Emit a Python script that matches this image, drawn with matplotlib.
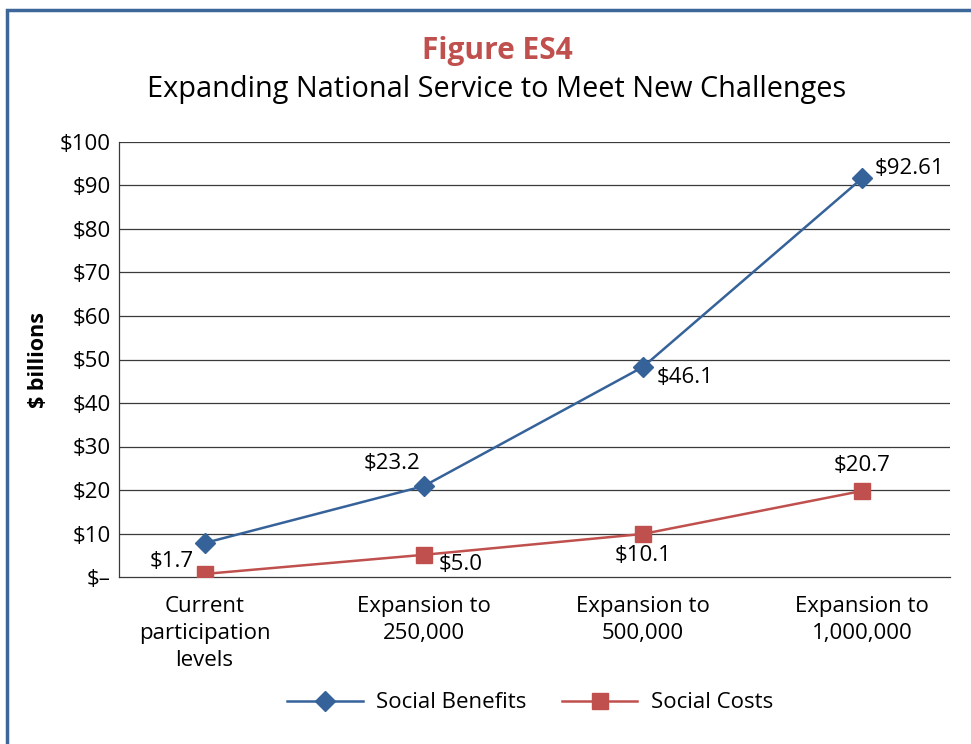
import matplotlib.pyplot as plt
from matplotlib.patches import Rectangle

plt.rcParams['font.family'] = ['Open Sans', 'DejaVu Sans']

categories = ["Current\nparticipation\nlevels", "Expansion to\n250,000",
              "Expansion to\n500,000", "Expansion to\n1,000,000"]
benefits = [7.8, 20.9, 48.3, 91.7]
costs = [0.7, 5.1, 9.9, 19.8]
benefit_labels = ["", "$23.2", "$46.1", "$92.61"]
cost_labels = ["$1.7", "$5.0", "$10.1", "$20.7"]
yticks = [0, 10, 20, 30, 40, 50, 60, 70, 80, 90, 100]
ytick_labels = ["$\u2013"] + ["$%d" % v for v in yticks[1:]]

blue = '#36629a'
red = '#c0504d'

fig = plt.figure(figsize=(9.71, 7.44), dpi=100)
W, H = 971, 744
ax = fig.add_axes([119 / W, 1 - 577 / H, (950 - 119) / W, (577 - 142) / H])

# blue frame around the figure
fig.patches.append(Rectangle((7 / W, -0.1), 1.2, (744 - 10) / H + 0.1,
                             transform=fig.transFigure, fill=False,
                             edgecolor='#3d6699', linewidth=2.5))

x = list(range(len(categories)))
ax.plot(x, benefits, color=blue, lw=1.8, marker='D', ms=10, label='Social Benefits', zorder=3)
ax.plot(x, costs, color=red, lw=1.8, marker='s', ms=11, label='Social Costs', zorder=3)

ax.set_xlim(-0.39, 3.4)
ax.set_ylim(0, 100)
ax.set_yticks(yticks)
ax.set_yticklabels(ytick_labels, fontsize=16)
ax.set_xticks(x)
ax.set_xticklabels(categories, fontsize=16, linespacing=1.36)
ax.tick_params(axis='x', length=0, pad=14)
ax.tick_params(axis='y', length=0, pad=6)
for v in yticks[1:]:
    ax.axhline(v, color='#3a3a3a', lw=0.9, zorder=1)
for s in ['top', 'right']:
    ax.spines[s].set_visible(False)
ax.spines['left'].set_color('#3a3a3a')
ax.spines['bottom'].set_color('#3a3a3a')
ax.spines['left'].set_linewidth(0.9)
ax.spines['bottom'].set_linewidth(0.9)
ax.set_ylabel('$ billions', fontsize=15.5, fontweight='bold', labelpad=8)

# data labels
b_off = [(0, 0), (-32, 23), (14, -11), (12, 10)]
b_ha = ['center', 'center', 'left', 'left']
for i, t in enumerate(benefit_labels):
    if t:
        ax.annotate(t, (x[i], benefits[i]), xytext=b_off[i], textcoords='offset pixels',
                    ha=b_ha[i], va='center', fontsize=16)
c_off = [(-33, 12), (37, -10), (0, -22), (0, 25)]
for i, t in enumerate(cost_labels):
    ax.annotate(t, (x[i], costs[i]), xytext=c_off[i], textcoords='offset pixels',
                ha='center', va='center', fontsize=16)

fig.text(497 / W, 1 - 51 / H, 'Figure ES4', color=red, fontsize=21.5, fontweight='bold',
         ha='center', va='center')
fig.text(497 / W, 1 - 90 / H, 'Expanding National Service to Meet New Challenges',
         fontsize=20.8, ha='center', va='center')

fig.legend(loc='center', bbox_to_anchor=(530 / W, 1 - 703 / H), ncol=2, frameon=False,
           fontsize=16, handlelength=3.4, columnspacing=1.6, handletextpad=0.6)

fig.savefig('out.png', dpi=100)
